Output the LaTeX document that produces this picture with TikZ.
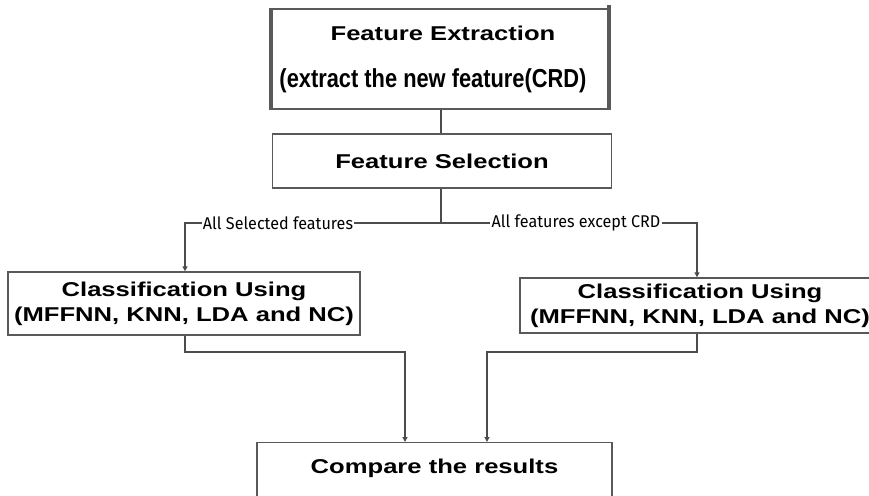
\documentclass[tikz,border=0pt]{standalone}
\usepackage{fontspec}
\setmainfont{Liberation Sans}
\newfontfamily\wideboldfont[FakeStretch=1.28]{Liberation Sans}
\newfontfamily\narrowfont[FakeStretch=0.84]{Liberation Sans}
\newfontfamily\labelfont[FakeStretch=0.95]{Fira Sans}
\usetikzlibrary{arrows.meta}

\begin{document}
\begin{tikzpicture}[
    x = 1pt,
    y = -1pt,
    >={Triangle[length=5pt,width=5pt]},
    stepbox/.style = {draw=black!65, line width=1.4pt, inner sep=0pt,
              align=center, font=\wideboldfont\bfseries\fontsize{20}{25}\selectfont},
    flow/.style = {draw=black!70, line width=1.4pt},
    branch/.style = {font=\labelfont\fontsize{17}{19}\selectfont, inner sep=1pt},
    ]

\clip (0,0) rectangle (869,495);

\node[stepbox, minimum width=337pt, minimum height=100pt] (extraction) at (440,59){};
\node (extraction_title) at (443,33) {\wideboldfont\bfseries\fontsize{20}{25}\selectfont Feature Extraction};
\node (extraction_note) at (433,81) {\narrowfont\bfseries\fontsize{26}{30}\selectfont (extract the new feature(CRD)};
\draw [black!65, line width=4pt] (extraction.north west) -- (extraction.south west);
\draw [black!65, line width=4pt] ([yshift=3pt]extraction.north east) -- (extraction.south east);

\node[stepbox, minimum width=339pt, minimum height=54pt] (selection) at (442,161){Feature Selection};

\node[stepbox, minimum width=352pt, minimum height=63pt] (classify_all) at (184,303.5)
    {Classification Using\\(MFFNN, KNN, LDA and NC)};
\node[stepbox, minimum width=360pt, minimum height=55pt] (classify_crd) at (700,305.5)
    {Classification Using\\(MFFNN, KNN, LDA and NC)};

\node[stepbox, minimum width=355pt, minimum height=90pt, anchor=north] (compare) at (434.5,442){};
\node (compare_title) at (434.5,468) {\wideboldfont\bfseries\fontsize{20}{25}\selectfont Compare the results};

\node[branch] (all_label) at (278,223) {All Selected features};
\node[branch] (crd_label) at (576,223) {All features except CRD};

\coordinate (split) at (441,223);
\coordinate (left_turn) at (185,223);
\coordinate (right_turn) at (697,223);
\coordinate (left_down) at (185,352);
\coordinate (left_over) at (405,352);
\coordinate (right_down) at (697,352);
\coordinate (right_over) at (487,352);

\draw [flow] (extraction.south -| split) -- (selection.north -| split);
\draw [flow] (selection.south -| split) -- (split);
\draw [flow] (split) -- (all_label.east);
\draw [flow] (split) -- (crd_label.west);
\draw [flow, ->] (all_label.west) -- (left_turn) -- (classify_all.north -| left_turn);
\draw [flow, ->] (crd_label.east) -- (right_turn) -- (classify_crd.north -| right_turn);
\draw [flow, ->] (classify_all.south -| left_down) -- (left_down) -- (left_over) -- (compare.north -| left_over);
\draw [flow, ->] (classify_crd.south -| right_down) -- (right_down) -- (right_over) -- (compare.north -| right_over);

\end{tikzpicture}
\end{document}
